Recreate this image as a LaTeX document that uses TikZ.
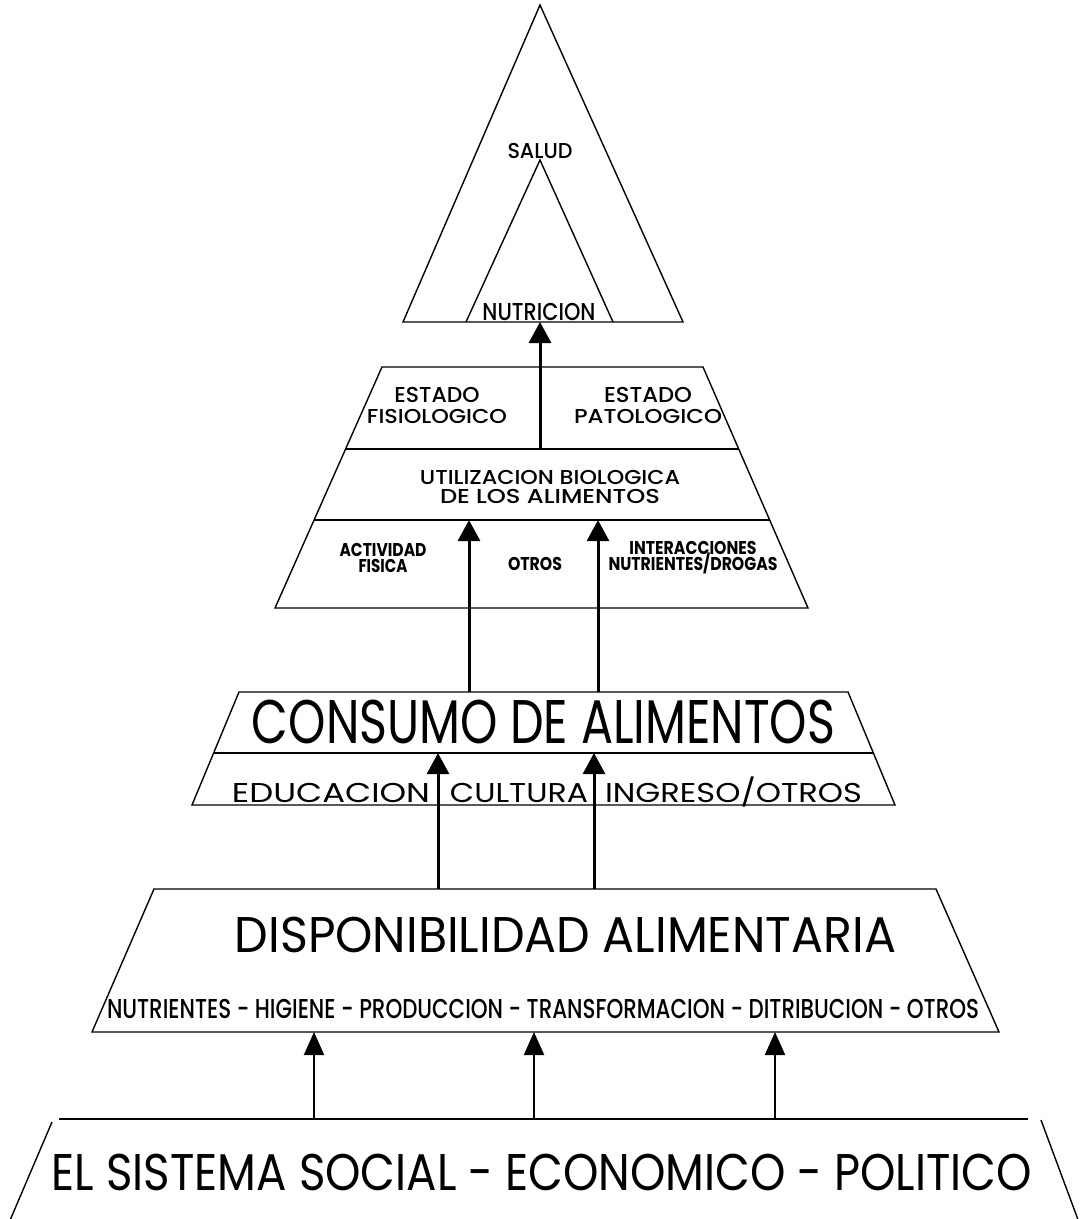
\documentclass[tikz,border=0pt]{standalone}
\usepackage{fontspec}
\setmainfont{Poppins}
\newfontfamily\medfont{Poppins Medium}
\usepackage{graphicx}
\usetikzlibrary{calc,arrows.meta}

\newlength\pxu
\setlength\pxu{0.2mm}
% stretch a line of capitals to a given width and cap height (in px)
\newcommand\fitline[3]{\resizebox{#1\pxu}{#2\pxu}{\smash{#3}\vphantom{E}}}

\tikzset{
  rim/.style={line width=0.28mm},
  upar/.style={line width=0.6mm,-{Triangle[length=4.2mm,width=4.4mm]}},
  lowar/.style={line width=0.42mm,-{Triangle[length=4.6mm,width=4mm]}},
  lbl/.style={inner sep=0pt,outer sep=0pt,align=center},
}

\begin{document}
\begin{tikzpicture}[x=0.2mm,y=-0.2mm]
\useasboundingbox (0,0) rectangle (1081,1219);
% salud / nutricion
\coordinate (T1) at (540,5);
\coordinate (T2) at (403,322);
\coordinate (T3) at (683,322);
\coordinate (N1) at (540,160);
\coordinate (N2) at (466,322);
\coordinate (N3) at (613,322);
\draw[rim] (T1)--(T2)--(T3)--cycle;
\draw[rim] (N2)--(N1)--(N3);
\node[lbl,font=\medfont] (salud) at (540,151) {\fitline{65}{15}{SALUD}};
\node[lbl,font=\medfont] (nutricion) at (539,312) {\fitline{113}{17}{NUTRICION}};

% utilizacion biologica
\coordinate (U1) at (382,367);
\coordinate (U2) at (703,367);
\coordinate (U3) at (808,608);
\coordinate (U4) at (275,608);
\coordinate (U5) at ($(U1)!0.340!(U4)$);
\coordinate (U6) at ($(U2)!0.340!(U3)$);
\coordinate (U7) at ($(U1)!0.635!(U4)$);
\coordinate (U8) at ($(U2)!0.635!(U3)$);
\draw[rim] (U1)--(U2)--(U3)--(U4)--cycle;
\draw[rim] (U5)--(U6);
\draw[rim] (U7)--(U8);
\coordinate (a0) at (540,449);
\draw[upar] (a0) -- (a0 |- N2);
\node[lbl,font=\medfont\fontsize{10}{11.95}\selectfont] (fisio) at (437,405.5)
  {\fitline{85}{15}{ESTADO}\\\fitline{140}{14}{FISIOLOGICO}};
\node[lbl,font=\medfont\fontsize{10}{11.95}\selectfont] (pato) at (648,405.5)
  {\fitline{88}{15}{ESTADO}\\\fitline{148}{14}{PATOLOGICO}};
\node[lbl,font=\medfont\fontsize{10}{10.8}\selectfont] (utiliz) at (550,486.5)
  {\fitline{260}{14}{UTILIZACION BIOLOGICA}\\\fitline{220}{14}{DE LOS ALIMENTOS}};
\node[lbl,font=\bfseries\fontsize{10}{9.1}\selectfont] (activ) at (383,557.5)
  {\fitline{87}{13}{ACTIVIDAD}\\\fitline{49}{13}{FISICA}};
\node[lbl,font=\bfseries] (otros) at (535,563.5) {\fitline{54}{13}{OTROS}};
\node[lbl,font=\bfseries\fontsize{10}{9.1}\selectfont] (interac) at (693,556)
  {\fitline{127}{13}{INTERACCIONES}\\\fitline{169}{13}{NUTRIENTES/DROGAS}};

% consumo de alimentos
\coordinate (C1) at (239,692);
\coordinate (C2) at (848,692);
\coordinate (C3) at (895,805);
\coordinate (C4) at (192,805);
\coordinate (C5) at ($(C1)!0.54!(C4)$);
\coordinate (C6) at ($(C2)!0.54!(C3)$);
\draw[rim] (C1)--(C2)--(C3)--(C4)--cycle;
\draw[rim] (C5)--(C6);
\coordinate (b1) at (469,692);
\coordinate (b2) at (598,692);
\draw[upar] (b1) -- (b1 |- U7);
\draw[upar] (b2) -- (b2 |- U7);
\node[lbl] (consumo) at (543.5,721.5) {\fitline{583}{43}{CONSUMO DE ALIMENTOS}};
\node[lbl] (educ) at (331,793) {\fitline{198}{19}{EDUCACION}};
\node[lbl] (cult) at (519,793) {\fitline{138}{19}{CULTURA}};
\node[lbl] (ingr) at (733.5,793) {\fitline{257}{19}{INGRESO/OTROS}};

% disponibilidad alimentaria
\coordinate (D1) at (154,889);
\coordinate (D2) at (936,889);
\coordinate (D3) at (999,1032);
\coordinate (D4) at (92,1032);
\draw[rim] (D1)--(D2)--(D3)--(D4)--cycle;
\coordinate (d1) at (438,889);
\coordinate (d2) at (594,889);
\draw[upar] (d1) -- (d1 |- C5);
\draw[upar] (d2) -- (d2 |- C5);
\node[lbl] (dispo) at (565.5,934.5) {\fitline{661}{35}{DISPONIBILIDAD ALIMENTARIA}};
\node[lbl,font=\medfont] (nutri) at (543,1009)
  {\fitline{872}{19}{NUTRIENTES - HIGIENE - PRODUCCION - TRANSFORMACION - DITRIBUCION - OTROS}};

% sistema social - economico - politico
\coordinate (E1) at (59,1119);
\coordinate (E2) at (1028,1119);
\coordinate (E3) at (52,1122);
\coordinate (E4) at (8,1225);
\coordinate (E5) at (1041,1120);
\coordinate (E6) at (1080,1225);
\draw[rim] (E1)--(E2);
\draw[rim] (E3)--(E4);
\draw[rim] (E5)--(E6);
\foreach \x [count=\i] in {314,534,775}{
  \coordinate (e\i) at (\x,1119);
  \draw[lowar] (e\i) -- (e\i |- D4);
}
\node[lbl] (sistema) at (542,1172) {\fitline{980}{36}{EL SISTEMA SOCIAL - ECONOMICO - POLITICO}};
\end{tikzpicture}
\end{document}
